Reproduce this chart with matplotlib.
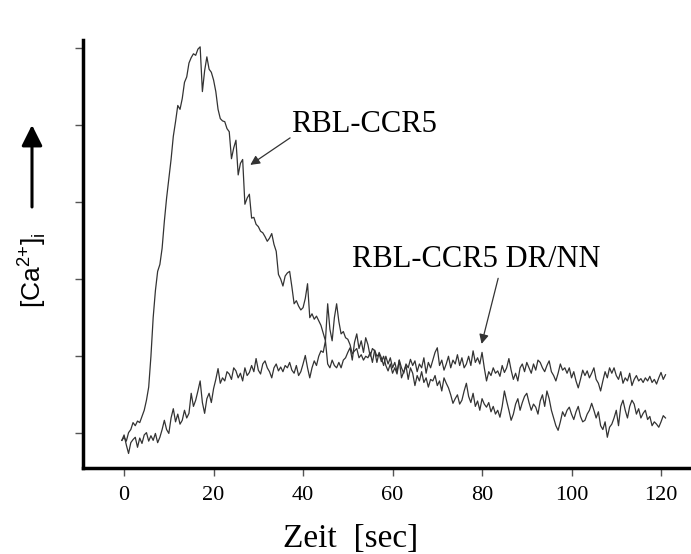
import numpy as np
import matplotlib.pyplot as plt

t0 = -0.5
dt = 0.5

ccr5 = [
    -0.09, -0.05, -0.10, 0.01, 0.05, 0.14, 0.10, 0.16, 0.14, 0.22,
    0.30, 0.43, 0.60, 1.00, 1.50, 1.85, 2.10, 2.19, 2.40, 2.75,
    3.05, 3.30, 3.55, 3.85, 4.04, 4.25, 4.20, 4.34, 4.55, 4.62,
    4.80, 4.87, 4.92, 4.90, 4.98, 5.01, 4.43, 4.70, 4.88, 4.72,
    4.68, 4.58, 4.43, 4.20, 4.08, 4.05, 4.04, 3.95, 3.91, 3.56,
    3.70, 3.80, 3.35, 3.50, 3.55, 2.97, 3.05, 3.10, 2.79, 2.80,
    2.71, 2.68, 2.62, 2.60, 2.55, 2.49, 2.53, 2.59, 2.45, 2.36,
    2.06, 2.00, 1.91, 2.04, 2.08, 2.10, 1.90, 1.68, 1.72, 1.65,
    1.60, 1.63, 1.75, 1.94, 1.50, 1.55, 1.48, 1.52, 1.46, 1.40,
    1.30, 1.20, 1.68, 1.35, 1.20, 1.50, 1.68, 1.45, 1.29, 1.32,
    1.24, 1.22, 1.15, 1.03, 1.07, 1.10, 0.98, 1.02, 0.95, 1.00,
    0.98, 1.05, 0.92, 1.08, 1.00, 1.03, 0.93, 1.00, 0.88, 0.81,
    0.90, 0.78, 0.85, 0.77, 0.95, 0.72, 0.80, 0.88, 0.70, 0.85,
    0.78, 0.62, 0.75, 0.68, 0.80, 0.66, 0.72, 0.60, 0.70, 0.68,
    0.75, 0.62, 0.68, 0.55, 0.72, 0.65, 0.59, 0.50, 0.39, 0.45,
    0.50, 0.38, 0.43, 0.55, 0.65, 0.48, 0.40, 0.52, 0.35, 0.42,
    0.30, 0.45, 0.38, 0.34, 0.40, 0.28, 0.35, 0.25, 0.30, 0.21,
    0.35, 0.55, 0.42, 0.30, 0.17, 0.25, 0.38, 0.45, 0.30, 0.40,
    0.48, 0.52, 0.40, 0.30, 0.38, 0.34, 0.25, 0.42, 0.50, 0.35,
    0.55, 0.45, 0.30, 0.20, 0.10, 0.04, 0.15, 0.28, 0.22, 0.30,
    0.34, 0.25, 0.18, 0.28, 0.35, 0.22, 0.15, 0.17, 0.25, 0.30,
    0.39, 0.30, 0.20, 0.28, 0.10, 0.05, 0.15, -0.05, 0.08, 0.12,
    0.20, 0.30, 0.10, 0.35, 0.43, 0.30, 0.20, 0.35, 0.43, 0.38,
    0.25, 0.32, 0.20, 0.26, 0.30, 0.18, 0.22, 0.10, 0.15, 0.12,
    0.08, 0.15, 0.23, 0.20,
]

drnn = [
    -0.09, -0.02, -0.15, -0.26, -0.12, -0.08, -0.05, -0.18, -0.06, -0.13,
    -0.02, 0.01, -0.10, -0.03, -0.09, 0.00, -0.12, -0.05, 0.05, 0.17,
    0.05, 0.00, 0.20, 0.32, 0.15, 0.25, 0.12, 0.17, 0.30, 0.20,
    0.26, 0.52, 0.35, 0.43, 0.55, 0.68, 0.40, 0.26, 0.45, 0.52,
    0.40, 0.58, 0.70, 0.84, 0.65, 0.72, 0.68, 0.80, 0.77, 0.70,
    0.85, 0.81, 0.72, 0.78, 0.68, 0.85, 0.75, 0.79, 0.88, 0.80,
    0.97, 0.82, 0.77, 0.90, 0.94, 0.85, 0.80, 0.72, 0.85, 0.90,
    0.81, 0.86, 0.80, 0.88, 0.85, 0.92, 0.82, 0.78, 0.88, 0.75,
    0.80, 0.90, 1.01, 0.85, 0.72, 0.85, 0.94, 0.88, 1.00, 1.07,
    1.05, 1.20, 0.90, 0.85, 0.95, 0.88, 0.85, 0.92, 0.85, 0.95,
    0.98, 1.05, 1.11, 0.95, 1.18, 1.29, 1.10, 1.20, 1.05, 1.24,
    1.15, 1.00, 1.10, 1.07, 0.92, 1.05, 0.98, 0.88, 1.00, 0.90,
    0.98, 0.85, 0.92, 0.80, 0.95, 0.85, 0.78, 0.90, 0.85, 0.96,
    0.88, 0.94, 0.80, 0.90, 0.85, 0.98, 0.78, 0.92, 0.85, 0.95,
    1.05, 1.11, 0.88, 0.95, 0.82, 0.90, 1.00, 0.85, 0.95, 0.90,
    1.02, 0.88, 0.98, 0.85, 0.90, 1.00, 0.88, 1.07, 0.92, 0.98,
    0.90, 1.05, 0.85, 0.68, 0.80, 0.75, 0.85, 0.78, 0.81, 0.74,
    0.88, 0.79, 0.85, 0.97, 0.82, 0.70, 0.78, 0.68, 0.85, 0.90,
    0.80, 0.92, 0.85, 0.78, 0.90, 0.82, 0.95, 0.92, 0.85, 0.80,
    0.88, 0.94, 0.80, 0.75, 0.68, 0.78, 0.90, 0.82, 0.85, 0.78,
    0.85, 0.72, 0.80, 0.68, 0.59, 0.70, 0.82, 0.75, 0.81, 0.72,
    0.78, 0.85, 0.70, 0.65, 0.55, 0.68, 0.80, 0.72, 0.85, 0.78,
    0.85, 0.75, 0.70, 0.80, 0.65, 0.72, 0.68, 0.78, 0.62, 0.70,
    0.75, 0.68, 0.71, 0.66, 0.72, 0.68, 0.74, 0.66, 0.70, 0.64,
    0.72, 0.79, 0.70, 0.76,
]

xticks = [0, 20, 40, 60, 80, 100, 120]
yticks = [0, 1, 2, 3, 4, 5]

t1 = t0 + dt * np.arange(len(ccr5))
t2 = t0 + dt * np.arange(len(drnn))

serif = 'Liberation Serif'
sans = 'Liberation Sans'

fig = plt.figure(figsize=(6.91, 5.54), dpi=100)
ax = fig.add_axes([0.120, 0.155, 0.880, 0.773])

ax.plot(t1, ccr5, color='#333333', lw=0.9)
ax.plot(t2, drnn, color='#333333', lw=0.9)

ax.set_xlim(-9.2, 126.7)
ax.set_ylim(-0.45, 5.1)
ax.set_xticks(xticks)
ax.set_yticks(yticks)
ax.set_yticklabels([])
ax.set_xticklabels([str(v) for v in xticks], fontfamily=serif, fontsize=16)
ax.tick_params(direction='out', length=6, width=1, color='#555555')
ax.tick_params(axis='x', pad=7)

for s in ['top', 'right']:
    ax.spines[s].set_visible(False)
for s in ['left', 'bottom']:
    ax.spines[s].set_linewidth(2.5)

# x label sits left of the axes centre in the original
fig.text(351 / 691, 7 / 554, 'Zeit  [sec]', ha='center', va='baseline',
         fontfamily=serif, fontsize=24)

fig.text(32 / 691, 1 - 270 / 554, r'[Ca$^{\mathregular{2{+}}}$]$_{\mathregular{i}}$',
         rotation=90, ha='center', va='center', fontfamily=sans, fontsize=19)
ax.annotate('', xy=(32, 554 - 125), xytext=(32, 554 - 207),
            xycoords='figure pixels', textcoords='figure pixels',
            arrowprops=dict(arrowstyle='-|>,head_length=0.9,head_width=0.45',
                            lw=2.2, color='black', mutation_scale=14,
                            shrinkA=0, shrinkB=0))

ax.text(37.25, 3.90, 'RBL-CCR5', fontfamily=serif, fontsize=22,
        ha='left', va='baseline')
ax.annotate('', xy=(28.2, 3.48), xytext=(37.1, 3.83),
            arrowprops=dict(arrowstyle='-|>', color='#333333', lw=0.9,
                            mutation_scale=14, shrinkA=0, shrinkB=0))

ax.text(50.9, 2.155, 'RBL-CCR5 DR/NN', fontfamily=serif, fontsize=22,
        ha='left', va='baseline')
ax.annotate('', xy=(79.9, 1.16), xytext=(83.6, 2.01),
            arrowprops=dict(arrowstyle='-|>', color='#333333', lw=0.9,
                            mutation_scale=14, shrinkA=0, shrinkB=0))

fig.savefig('out.png', dpi=100)
